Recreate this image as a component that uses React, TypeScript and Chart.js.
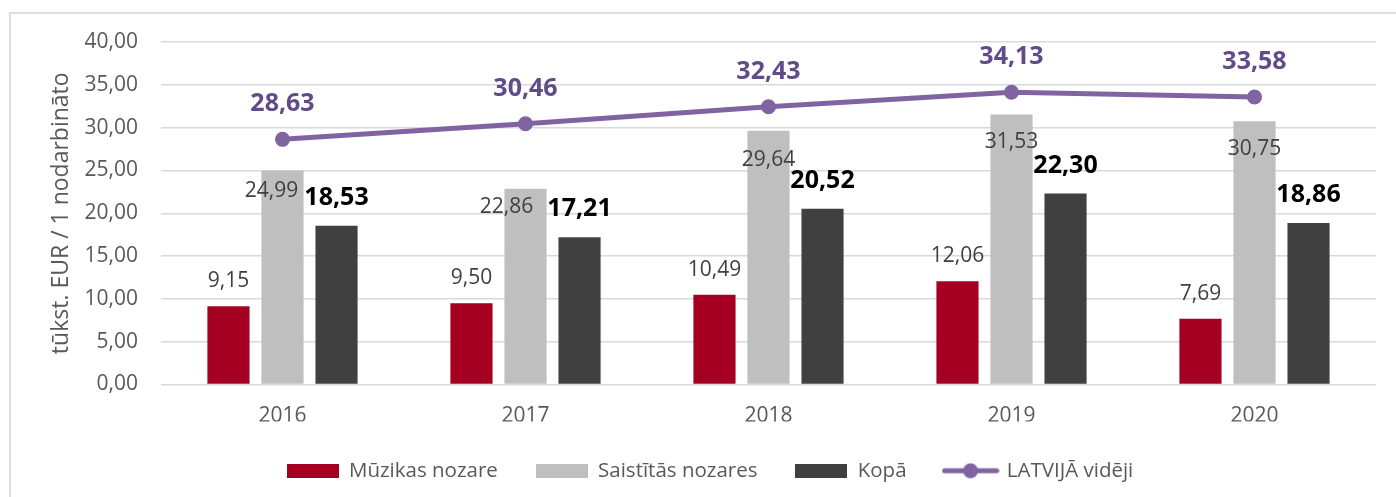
import React, { useEffect, useRef } from 'react';
import { Chart, registerables } from 'chart.js';

Chart.register(...registerables);

// ---- data ----
const categories = ['2016', '2017', '2018', '2019', '2020'];
const muzikasNozare = [9.15, 9.5, 10.49, 12.06, 7.69];
const saistitasNozares = [24.99, 22.86, 29.64, 31.53, 30.75];
const kopa = [18.53, 17.21, 20.52, 22.3, 18.86];
const latvijaVideji = [28.63, 30.46, 32.43, 34.13, 33.58];
const seriesNames = ['Mūzikas nozare', 'Saistītās nozares', 'Kopā', 'LATVIJĀ vidēji'];
const axisTitle = 'tūkst. EUR / 1 nodarbināto';
const yMin = 0;
const yMax = 40;
const yStep = 5;

// ---- styles ----
const FONT = '"Open Sans", "Noto Sans", sans-serif';
const RED = '#A50021';
const LIGHT = '#BFBFBF';
const DARK = '#404040';
const PURPLE = '#8064A2';
const PURPLE_TEXT = '#614B8A';
const AXIS_TEXT = '#595959';

const fmt = (v: number) => v.toFixed(2).replace('.', ',');

const labelStyles = [
  { color: '#404040', size: 21, weight: 'normal', dx: [0, 0, 0, 0, 0], dy: [-25, -25, -25, -25, -25] },
  { color: '#404040', size: 21, weight: 'normal', dx: [-11, -19, 0, 0, 0], dy: [20, 18, 29, 27.5, 28] },
  { color: '#000000', size: 25, weight: 'bold', dx: [0, 0, 0, 0, 0], dy: [-28, -28, -28, -28, -28] },
  { color: PURPLE_TEXT, size: 25, weight: 'bold', dx: [0, 0, 0, 0, 0], dy: [-35, -35, -35, -35, -35] },
];

const valueLabelsPlugin = {
  id: 'valueLabels',
  afterDatasetsDraw(chart: any) {
    const ctx = chart.ctx;
    chart.data.datasets.forEach((ds: any, di: number) => {
      const meta = chart.getDatasetMeta(di);
      const st = labelStyles[di];
      meta.data.forEach((el: any, i: number) => {
        const v = ds.data[i] as number;
        ctx.save();
        ctx.font = `${st.weight} ${st.size}px ${FONT}`;
        ctx.fillStyle = st.color;
        ctx.textAlign = 'center';
        ctx.textBaseline = 'middle';
        ctx.fillText(fmt(v), el.x + st.dx[i], el.y + st.dy[i]);
        ctx.restore();
      });
    });
  },
};

const legendShiftPlugin = {
  id: 'legendShift',
  afterLayout(chart: any) {
    const lg = chart.legend;
    if (lg) {
      lg.left += 22;
      lg.right += 22;
      lg.top += 1;
      lg.bottom += 1;
    }
  },
};

function makeIcon(w: number, h: number, draw: (g: CanvasRenderingContext2D) => void) {
  const c = document.createElement('canvas');
  c.width = w;
  c.height = h;
  const g = c.getContext('2d') as CanvasRenderingContext2D;
  draw(g);
  return c;
}

export default function App() {
  const ref = useRef<HTMLCanvasElement>(null);

  useEffect(() => {
    if (!ref.current) return;
    const icons = [
      makeIcon(52, 14, (g) => { g.fillStyle = RED; g.fillRect(0, 0, 52, 14); }),
      makeIcon(52, 14, (g) => { g.fillStyle = LIGHT; g.fillRect(0, 0, 52, 14); }),
      makeIcon(52, 14, (g) => { g.fillStyle = DARK; g.fillRect(0, 0, 52, 14); }),
      makeIcon(58, 16, (g) => {
        g.strokeStyle = PURPLE;
        g.lineWidth = 5;
        g.lineCap = 'round';
        g.beginPath();
        g.moveTo(3, 8);
        g.lineTo(55, 8);
        g.stroke();
        g.fillStyle = PURPLE;
        g.beginPath();
        g.arc(29, 8, 7.5, 0, Math.PI * 2);
        g.fill();
      }),
    ];

    const chart = new Chart(ref.current, {
      type: 'bar',
      data: {
        labels: categories,
        datasets: [
          { type: 'bar', label: seriesNames[0], data: muzikasNozare, backgroundColor: RED, order: 1, categoryPercentage: 0.667, barPercentage: 0.78 },
          { type: 'bar', label: seriesNames[1], data: saistitasNozares, backgroundColor: LIGHT, order: 1, categoryPercentage: 0.667, barPercentage: 0.78 },
          { type: 'bar', label: seriesNames[2], data: kopa, backgroundColor: DARK, order: 1, categoryPercentage: 0.667, barPercentage: 0.78 },
          {
            type: 'line', label: seriesNames[3], data: latvijaVideji, borderColor: PURPLE, backgroundColor: PURPLE,
            borderWidth: 5, pointRadius: 7.5, pointBorderWidth: 0, pointBackgroundColor: PURPLE, order: 0, tension: 0,
          },
        ],
      } as any,
      options: {
        animation: false,
        responsive: true,
        maintainAspectRatio: false,
        events: [],
        layout: { padding: { top: 42, right: 20, bottom: 7, left: 0 } },
        plugins: {
          tooltip: { enabled: false },
          legend: {
            position: 'bottom',
            labels: {
              usePointStyle: true,
              pointStyleWidth: 52,
              boxHeight: 14,
              padding: 38,
              color: AXIS_TEXT,
              font: { family: FONT, size: 20.5 },
              generateLabels: (ch: any) =>
                ch.data.datasets.map((ds: any, i: number) => ({
                  text: ds.label,
                  pointStyle: icons[i],
                  fillStyle: ds.backgroundColor,
                  strokeStyle: ds.backgroundColor,
                  lineWidth: 0,
                  hidden: false,
                  datasetIndex: i,
                  fontColor: AXIS_TEXT,
                })),
            },
          },
        },
        scales: {
          x: {
            grid: { display: false, drawTicks: false },
            border: { display: false },
            ticks: { padding: 19, color: AXIS_TEXT, font: { family: FONT, size: 21 } },
            afterFit: (s: any) => { s.height = 37; },
          },
          y: {
            min: yMin,
            max: yMax,
            ticks: {
              stepSize: yStep,
              padding: 23,
              color: AXIS_TEXT,
              font: { family: FONT, size: 21 },
              callback: (v: any) => fmt(Number(v)),
            },
            grid: { color: '#D9D9D9', lineWidth: 1.5, drawTicks: false },
            border: { display: false },
            title: {
              display: true,
              text: axisTitle,
              color: AXIS_TEXT,
              font: { family: FONT, size: 23 },
              padding: { top: 48, bottom: 0 },
            },
            afterFit: (s: any) => { s.width = 161; },
          },
        },
      } as any,
      plugins: [valueLabelsPlugin, legendShiftPlugin],
    });
    return () => chart.destroy();
  }, []);

  return (
    <div style={{ position: 'fixed', left: 0, top: 0, width: 1396, height: 497, overflow: 'hidden', background: '#ffffff' }}>
      <div style={{ position: 'absolute', left: 9, top: 12, width: 1500, height: 600, border: '2px solid #DEDEDE', boxSizing: 'border-box' }} />
      <div style={{ position: 'absolute', left: 0, top: 0, width: 1396, height: 497 }}>
        <canvas ref={ref} />
      </div>
    </div>
  );
}
